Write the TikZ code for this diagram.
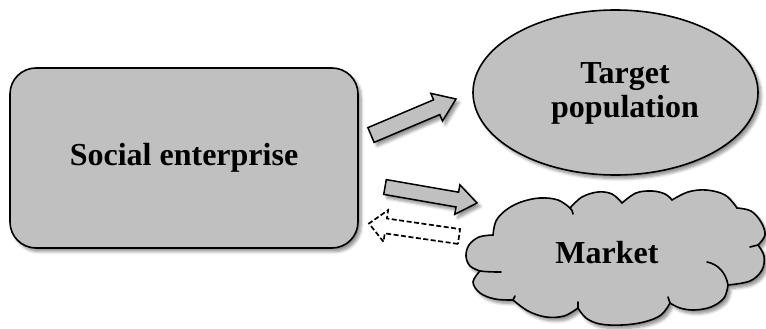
\documentclass[tikz,border=0pt]{standalone}
\usepackage{fontspec}
\setmainfont{Liberation Serif}
\usetikzlibrary{calc,shadows.blur}

\definecolor{boxgray}{HTML}{C0C0C0}

\tikzset{
  softshadow/.style={blur shadow={shadow xshift=3pt, shadow yshift=-3.5pt,
      shadow blur radius=3pt, shadow blur steps=6, shadow opacity=45}},
  graybody/.style={draw=black, line width=1.6pt, fill=boxgray, softshadow},
  curl/.style={draw=black, line width=1.6pt, line cap=round},
  caption/.style={font=\fontsize{32}{34}\selectfont\bfseries, align=center,
      text=black, inner sep=0pt},
  flowarrow/.style={draw=black, line width=1.5pt, fill=boxgray, line join=miter,
      softshadow},
  backarrow/.style={draw=black, line width=1.7pt, fill=white,
      dash pattern=on 5pt off 2.5pt, line join=miter},
  puff/.style={smooth, tension=0.6},
}

% block arrow from tail #1 to tip #2: shaft width #3, head width #4, head length #5
\newcommand{\blockarrow}[6]{%
  \coordinate (ba-h) at ($(#2)!#5!(#1)$);
  \path[#6] ($(#1)!#3/2!90:(#2)$) -- ($(ba-h)!#3/2!90:(#2)$)
    -- ($(ba-h)!#4/2!90:(#2)$) -- (#2) -- ($(ba-h)!#4/2!-90:(#2)$)
    -- ($(ba-h)!#3/2!-90:(#2)$) -- ($(#1)!#3/2!-90:(#2)$) -- cycle;
}

\begin{document}
\begin{tikzpicture}[x=1pt,y=-1pt]
  \useasboundingbox (0,0) rectangle (766,329);

  % enterprise block
  \path[graybody, rounded corners=26pt] (10,68) rectangle (358,248);
  \node[caption] (se) at (184,158) {Social enterprise};

  % target population
  \path[graybody] (615.5,92.5) ellipse [x radius=142.5, y radius=82.5];
  \node[caption] (tp) at (625,93) {Target\\population};

  % market cloud, one smooth arc per puff
  \path[graybody] (493,235)
    -- plot[puff] coordinates {(493,235) (496,221) (506,210) (521,202) (540,198) (558,200) (570,208)}
    -- plot[puff] coordinates {(570,208) (582,197) (598,192) (612,194) (622,203)}
    -- plot[puff] coordinates {(622,203) (636,193) (652,191) (665,194) (672,200)}
    -- plot[puff] coordinates {(672,200) (688,192) (706,190) (725,195) (737,208)}
    -- plot[puff] coordinates {(737,208) (751,211) (761,222) (765,235) (758,245)}
    -- plot[puff] coordinates {(758,245) (764,256) (762,270) (750,281) (728,285)}
    -- plot[puff] coordinates {(728,285) (724,298) (711,307) (694,310) (680,308) (670,303)}
    -- plot[puff] coordinates {(670,303) (661,315) (644,322) (622,325) (600,324) (586,318) (578,308)}
    -- plot[puff] coordinates {(578,308) (564,316) (546,317) (528,311) (513,300)}
    -- plot[puff] coordinates {(513,300) (495,299) (480,293) (473,282) (480,271)}
    -- plot[puff] coordinates {(480,271) (470,266) (466,256) (469,245) (479,237) (493,235)}
    -- cycle;
  % inner curls of the cloud
  \path[curl] (480,271) .. controls (488,272) and (494,272) .. (501,272);
  \path[curl] (570,208) .. controls (572,210) .. (573,214);
  \path[curl] (758,245) -- (750,247);
  \path[curl] (728,285) .. controls (726,273) and (718,264) .. (707,262);
  \path[curl] (670,303) -- (668,297);
  \path[curl] (578,308) -- (578,302);
  \path[curl] (513,300) -- (515,296);
  \node[caption] (mk) at (607,253) {Market};

  % flows
  \coordinate (a1t) at (371,135);  \coordinate (a1h) at (456,99);
  \coordinate (a2t) at (385,187);  \coordinate (a2h) at (477,203);
  \coordinate (a3t) at (459,236.5);\coordinate (a3h) at (369,223.5);
  \blockarrow{a1t}{a1h}{16pt}{30pt}{21pt}{flowarrow}
  \blockarrow{a2t}{a2h}{15pt}{30pt}{20pt}{flowarrow}
  \blockarrow{a3t}{a3h}{15pt}{32pt}{17pt}{backarrow}
\end{tikzpicture}
\end{document}
